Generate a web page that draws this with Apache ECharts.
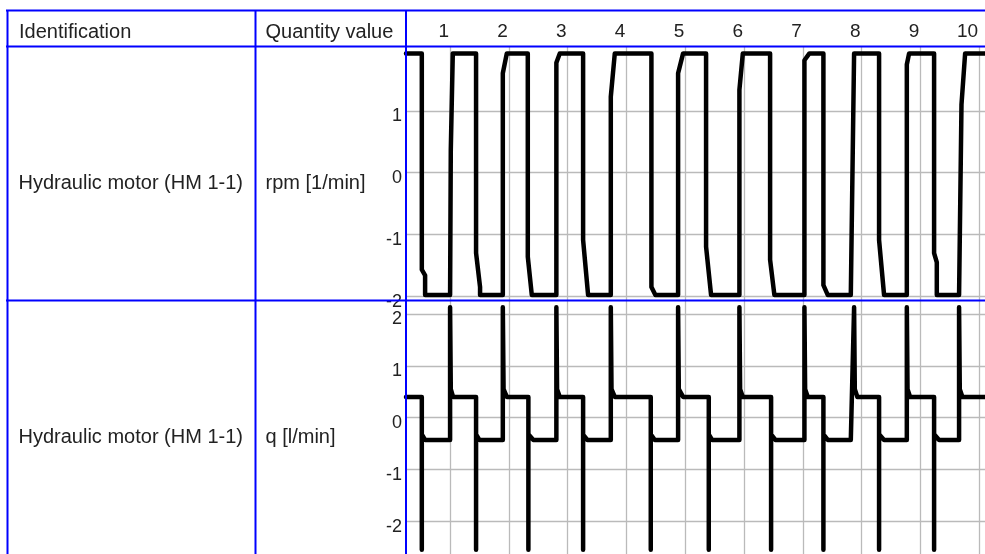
<!DOCTYPE html>
<html>
<head>
<meta charset="utf-8">
<script src="https://cdn.jsdelivr.net/npm/echarts@6/dist/echarts.min.js"></script>
<style>
  html, body { margin: 0; padding: 0; background: #fff; }
  #chart { width: 985px; height: 554px; }
</style>
</head>
<body>
<div id="chart"></div>
<script>
// step columns shown in the header
const stepValues = [1, 2, 3, 4, 5, 6, 7, 8, 9, 10];
const stepLabels = ['1', '2', '3', '4', '5', '6', '7', '8', '9', '10'];
const timeRange = [0.25, 10.1];

// y ticks per row
const rpmTicks = [-2, -1, 0, 1];
const qTicks = [-2, -1, 0, 1, 2];

// table text
const rowNames = ['Hydraulic motor (HM 1-1)', 'Hydraulic motor (HM 1-1)'];
const rowQuantities = ['rpm [1/min]', 'q [l/min]'];

// rpm [1/min] trace, [time, value]
const rpmPoints = [
  [0.25, 1.93],
  [0.519, 1.93], [0.519, -1.57], [0.575, -1.66], [0.575, -1.98],
  [1.000, -1.98], [1.012, 0.37], [1.046, 1.93],
  [1.442, 1.93], [1.442, -1.30], [1.510, -1.85], [1.510, -1.98],
  [1.897, -1.98], [1.897, 1.61], [1.965, 1.93],
  [2.322, 1.93], [2.322, -1.36], [2.390, -1.98],
  [2.808, -1.98], [2.808, 1.78], [2.866, 1.93],
  [3.263, 1.93], [3.263, -1.09], [3.348, -1.98],
  [3.734, -1.98], [3.734, 1.23], [3.802, 1.93],
  [4.425, 1.93], [4.425, -1.85], [4.493, -1.98],
  [4.879, -1.98], [4.879, 1.61], [4.964, 1.93],
  [5.355, 1.93], [5.355, -1.20], [5.440, -1.98],
  [5.922, -1.98], [5.922, 1.34], [5.980, 1.93],
  [6.444, 1.93], [6.444, -1.41], [6.517, -1.98],
  [7.028, -1.98], [7.028, 1.82], [7.113, 1.93],
  [7.351, 1.93], [7.351, -1.82], [7.426, -1.98],
  [7.817, -1.98], [7.873, 1.93],
  [8.298, 1.93], [8.298, -1.09], [8.383, -1.98],
  [8.770, -1.98], [8.770, 1.75], [8.809, 1.93],
  [9.234, 1.93], [9.234, -1.30], [9.280, -1.45], [9.280, -1.98],
  [9.659, -1.98], [9.700, 1.10], [9.762, 1.93],
  [10.10, 1.93]
];

// q [l/min] trace, [time, value]
const qPoints = [
  [0.25, 0.40],
  [0.519, 0.40], [0.519, -2.55], [0.519, -0.32], [0.575, -0.43],
  [1.000, -0.43], [1.000, 2.13], [1.012, 0.55], [1.051, 0.40],
  [1.442, 0.40], [1.442, -2.55], [1.442, -0.32], [1.498, -0.43],
  [1.897, -0.43], [1.897, 2.13], [1.910, 0.55], [1.965, 0.40],
  [2.332, 0.40], [2.332, -2.55], [2.332, -0.32], [2.417, -0.43],
  [2.808, -0.43], [2.808, 2.13], [2.820, 0.55], [2.866, 0.40],
  [3.263, 0.40], [3.263, -2.55], [3.263, -0.33], [3.336, -0.43],
  [3.734, -0.43], [3.734, 2.13], [3.746, 0.55], [3.802, 0.40],
  [4.414, 0.40], [4.414, -2.55], [4.414, -0.32], [4.483, -0.43],
  [4.879, -0.43], [4.879, 2.13], [4.891, 0.55], [4.964, 0.40],
  [5.401, 0.40], [5.401, -2.55], [5.401, -0.32], [5.457, -0.43],
  [5.922, -0.43], [5.922, 2.13], [5.934, 0.55], [5.980, 0.40],
  [6.461, 0.40], [6.461, -2.55], [6.461, -0.32], [6.534, -0.43],
  [7.028, -0.43], [7.028, 2.13], [7.040, 0.55], [7.085, 0.40],
  [7.351, 0.40], [7.351, -2.55], [7.351, -0.32], [7.426, -0.43],
  [7.817, -0.43], [7.873, 2.13], [7.885, 0.55], [7.929, 0.40],
  [8.298, 0.40], [8.298, -2.55], [8.298, -0.32], [8.383, -0.43],
  [8.770, -0.43], [8.770, 2.13], [8.782, 0.55], [8.826, 0.40],
  [9.234, 0.40], [9.234, -2.55], [9.234, -0.32], [9.319, -0.43],
  [9.659, -0.43], [9.659, 2.13], [9.671, 0.55], [9.716, 0.40],
  [10.10, 0.40]
];

const BLUE = '#0000ff';
const GRID_GRAY = '#bababa';
const TEXT = '#222';
const FONT = '"Liberation Sans", Arial, sans-serif';

const chart = echarts.init(document.getElementById('chart'));

function timeAxis(gridIndex, withLabels) {
  return {
    type: 'value',
    gridIndex: gridIndex,
    position: 'top',
    min: timeRange[0],
    max: timeRange[1],
    axisLine: { show: false },
    axisTick: { show: false, customValues: stepValues },
    axisLabel: withLabels ? {
      customValues: stepValues,
      formatter: (v) => stepLabels[stepValues.indexOf(v)],
      color: TEXT,
      fontSize: 19,
      fontFamily: FONT,
      align: 'right',
      verticalAlign: 'middle',
      margin: 14,
      padding: [0, 1, 0, 0],
    } : { show: false },
    splitLine: { show: true, lineStyle: { color: GRID_GRAY, width: 1.3 } },
  };
}

function valueAxis(gridIndex, min, max, ticks) {
  return {
    type: 'value',
    gridIndex: gridIndex,
    min: min,
    max: max,
    axisLine: { show: false },
    axisTick: { show: false, customValues: ticks },
    axisLabel: {
      customValues: ticks,
      color: TEXT,
      fontSize: 18,
      fontFamily: FONT,
      margin: 4,
      verticalAlign: 'top',
      lineHeight: 11,
    },
    splitLine: { show: true, lineStyle: { color: GRID_GRAY, width: 1.3 } },
  };
}

function hLine(y, x1, x2) {
  return { type: 'line', z: 100, silent: true,
    shape: { x1: x1, y1: y, x2: x2, y2: y },
    style: { stroke: BLUE, lineWidth: 2 } };
}
function vLine(x, y1, y2) {
  return { type: 'line', z: 100, silent: true,
    shape: { x1: x, y1: y1, x2: x, y2: y2 },
    style: { stroke: BLUE, lineWidth: 2 } };
}
function label(text, x, y) {
  return { type: 'text', z: 100, silent: true, x: x, y: y,
    style: { text: text, fill: TEXT, fontSize: 20, fontFamily: FONT, verticalAlign: 'middle' } };
}

const traceStyle = { color: '#000', width: 4.5, cap: 'round', join: 'round' };

chart.setOption({
  animation: false,
  backgroundColor: '#fff',
  grid: [
    { left: 406, right: 0, top: 46, height: 254 },
    { left: 406, right: 0, top: 300, height: 254 },
  ],
  xAxis: [timeAxis(0, true), timeAxis(1, false)],
  yAxis: [
    valueAxis(0, -2.06, 2.05, rpmTicks),
    valueAxis(1, -2.63, 2.27, qTicks),
  ],
  series: [
    { name: rowQuantities[0], type: 'line', xAxisIndex: 0, yAxisIndex: 0,
      showSymbol: false, data: rpmPoints, lineStyle: traceStyle },
    { name: rowQuantities[1], type: 'line', xAxisIndex: 1, yAxisIndex: 1,
      showSymbol: false, data: qPoints, lineStyle: traceStyle },
  ],
  graphic: [
    hLine(10.5, 6, 985),
    hLine(46.5, 6, 985),
    hLine(300.5, 6, 985),
    vLine(7.5, 10, 554),
    vLine(255.5, 10, 554),
    vLine(406, 10, 554),
    label('Identification', 19, 32),
    label('Quantity value', 265.5, 32),
    label(rowNames[0], 18.5, 183),
    label(rowQuantities[0], 265.5, 183),
    label(rowNames[1], 18.5, 437),
    label(rowQuantities[1], 265.5, 437),
  ],
});
</script>
</body>
</html>
